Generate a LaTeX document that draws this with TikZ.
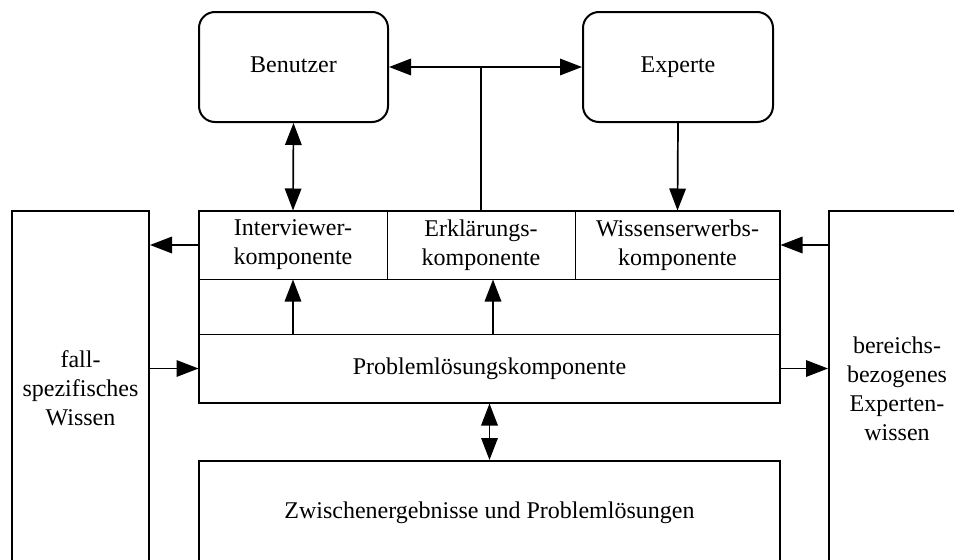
\documentclass[tikz,border=0pt]{standalone}
\usepackage{fontspec}
\setmainfont{Liberation Serif}
\usetikzlibrary{arrows.meta}

\tikzset{
  txt/.style={font=\fontsize{24}{29}\selectfont, align=center, inner sep=0pt},
  actor/.style={txt, draw, line width=2pt, rounded corners=16pt, text height=16.5pt, text depth=5.2pt},
  store/.style={txt, draw, line width=2pt},
  cell/.style={txt, draw, line width=1pt},
  frame/.style={draw, line width=2pt, inner sep=0pt},
  tip/.tip={Triangle[length=22pt,width=16.5pt]},
  conn/.style={line width=1.7pt, -tip},
  biconn/.style={line width=1.7pt, tip-tip},
  plain/.style={line width=1.7pt}
}

\begin{document}
\begin{tikzpicture}[x=1pt,y=-1pt]
  \useasboundingbox (0,0) rectangle (954,560);
  \clip (0,0) rectangle (954,560);
  \fill[white] (0,0) rectangle (954,560);

  % users of the system
  \node[actor, minimum width=189pt, minimum height=110pt] (ben) at (293.5,67) {Benutzer};
  \node[actor, minimum width=190pt, minimum height=110pt] (exp) at (678,67) {Experte};

  % knowledge stores (open towards the page edges)
  \node[store, minimum width=137pt, minimum height=354pt] (fall) at (80.5,388)
    {fall-\\spezifisches\\Wissen};
  \node[store, minimum width=136pt, minimum height=356pt] (exb) at (897,389)
    {bereichs-\\bezogenes\\Experten-\\wissen};
  \node[store, minimum width=581pt, minimum height=104pt] (zw) at (489.5,513)
    {Zwischenergebnisse und Problemlösungen};

  % components of the shell
  \node[cell, minimum width=188pt, minimum height=68pt] (int) at (293,245)
    {Interviewer-\\komponente};
  \node[cell, minimum width=188pt, minimum height=68pt] (erk) at (481,245)
    {Erklärungs-\\komponente};
  \node[cell, minimum width=205pt, minimum height=68pt] (wis) at (677.5,245)
    {Wissenserwerbs-\\komponente};
  \node[cell, minimum width=581pt, minimum height=69pt] (prob) at (489.5,368.5)
    {Problemlösungskomponente};
  \node[frame, minimum width=581pt, minimum height=192pt] (core) at (489.5,307) {};

  % dialogue connections
  \draw[biconn] (ben.east) -- (exp.west);
  \draw[plain] (erk.north) -- (erk.north |- ben.east);
  \draw[biconn] (ben.south) -- (int.north);
  \draw[conn] (exp.south) -- (wis.north);

  % inside the shell
  \draw[conn] (int.south |- prob.north) -- (int.south);
  \draw[conn] ([xshift=3.5pt]prob.north) -- ([xshift=3.5pt]prob.north |- erk.south);

  % knowledge flows
  \draw[conn] (int.west) -- (int.west -| fall.east);
  \draw[conn] (fall.east |- prob.west) -- (prob.west);
  \draw[conn] (wis.east -| exb.west) -- (wis.east);
  \draw[conn] (prob.east) -- (prob.east -| exb.west);
  \draw[biconn] (prob.south) -- (zw.north);
\end{tikzpicture}
\end{document}
